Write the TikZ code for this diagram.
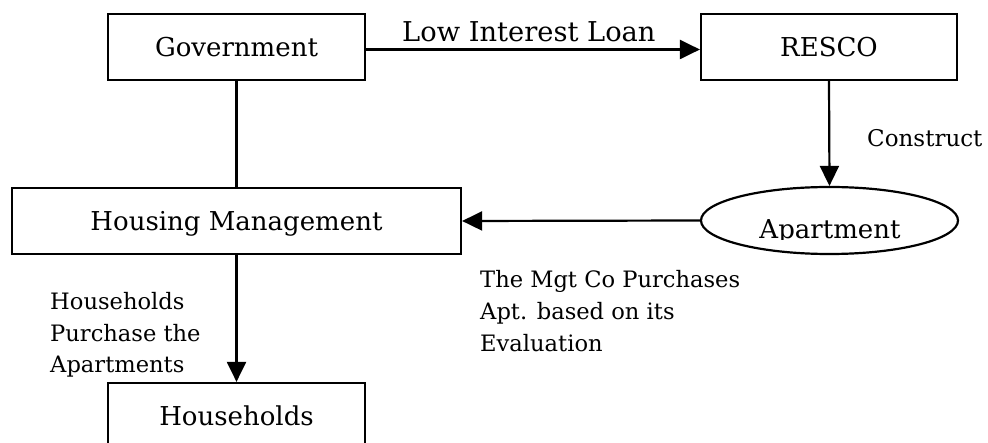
\documentclass[tikz,border=0pt]{standalone}
\usepackage{fontspec}
\setmainfont{DejaVu Serif}
\usetikzlibrary{arrows.meta,shapes.geometric,calc}
\begin{document}
\begin{tikzpicture}[x=1pt,y=-1pt,
  boxfont/.style={font=\fontsize{26}{30}\selectfont, text height=19pt, text depth=0pt},
  entity/.style={draw, line width=2.2pt, inner sep=0pt, minimum height=66pt, boxfont},
  flow/.style={line width=2.2pt, -{Triangle[length=20pt,width=19pt]}},
  link/.style={line width=2.2pt},
  note/.style={inner sep=0pt, anchor=base west, font=\fontsize{22.6}{31.5}\selectfont}]
% canvas
\useasboundingbox (0,0) rectangle (988,443);
\clip (0,0) rectangle (988,443);
\fill[white] (0,0) rectangle (988,443);

% actors
\node[entity, minimum width=257pt] (gov) at (236.5,47) {Government};
\node[entity, minimum width=256pt] (resco) at (829,47) {RESCO};
\node[entity, minimum width=449pt] (hm) at (236.5,221) {Housing Management};
\node[entity, minimum width=257pt] (hh) at (236.5,416) {Households};
\node[draw, ellipse, line width=2.2pt, inner sep=0pt,
      minimum width=257pt, minimum height=67pt] (apt) at (829.5,220.5) {};
\begin{scope}
  \clip ($(apt.west)+(0,-40)$) rectangle ($(apt.east)+(0,19)$);
  \node[boxfont, inner sep=0pt, anchor=base] (apttext) at (830,239) {Apartment};
\end{scope}

% relations
\draw[flow] ([yshift=-2.5pt]gov.east) -- ([yshift=-2.5pt]resco.west);
\draw[link] (gov.south) -- (hm.north);
\draw[flow] (resco.south) -- (apt.north);
\draw[flow] (apt.west) -- (hm.east);
\draw[flow] (hm.south) -- (hh.north);

% labels
\node[note, font=\fontsize{27.3}{32}\selectfont] (loan) at (402,42) {Low Interest Loan};
\node[note, font=\fontsize{23}{28}\selectfont] (cons) at (867,147) {Construct};
\node[note, font=\fontsize{22.6}{32}\selectfont] (mgt) at (480,288)
  {\begin{tabular}[t]{@{}l@{}}The Mgt Co Purchases\\Apt. based on its\\Evaluation\end{tabular}};
\node[note] (buy) at (50,310)
  {\begin{tabular}[t]{@{}l@{}}Households\\Purchase the\\Apartments\end{tabular}};
\end{tikzpicture}
\end{document}
